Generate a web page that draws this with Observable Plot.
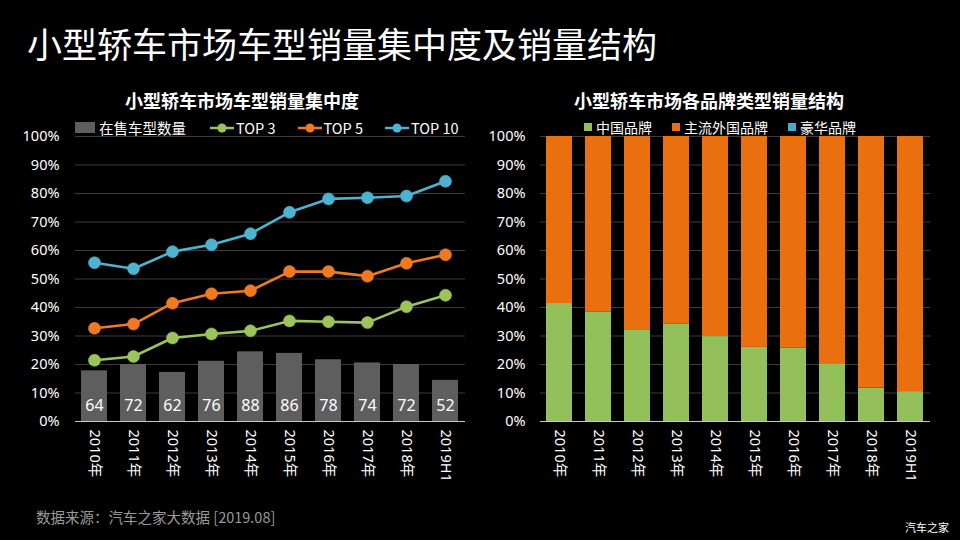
<!DOCTYPE html>
<html>
<head>
<meta charset="utf-8">
<script src="https://cdn.jsdelivr.net/npm/d3@7"></script>
<script src="https://cdn.jsdelivr.net/npm/@observablehq/plot@0.6"></script>
<style>
  html, body { margin:0; padding:0; background:#000; }
  body { width:960px; height:540px; position:relative; overflow:hidden; font-family:"Noto Sans CJK SC","Noto Sans",sans-serif; color:#fff; }
  .abs { position:absolute; }
  #title { left:27px; top:17px; font-size:35px; font-weight:400; white-space:nowrap; }
  .ctitle { font-size:18px; font-weight:700; white-space:nowrap; text-align:center; width:480px; top:87px; }
  .legend { top:117px; font-size:14.5px; display:flex; align-items:center; white-space:nowrap; }
  .legend .item { display:flex; align-items:center; }
  #source { left:36px; top:506px; font-size:14.5px; color:#9a9a9a; }
  #logo { left:905px; top:519px; font-size:11px; color:#fff; }
</style>
</head>
<body>
<div id="title" class="abs">小型轿车市场车型销量集中度及销量结构</div>
<div class="abs ctitle" style="left:2px">小型轿车市场车型销量集中度</div>
<div class="abs ctitle" style="left:469px">小型轿车市场各品牌类型销量结构</div>
<div id="legendL" class="abs legend" style="left:75px"></div>
<div id="legendR" class="abs legend" style="left:584px; font-size:14px"></div>
<div id="chartL" class="abs" style="left:0px; top:110px"></div>
<div id="chartR" class="abs" style="left:480px; top:110px"></div>
<div id="source" class="abs">数据来源：汽车之家大数据 [2019.08]</div>
<div id="logo" class="abs">汽车之家</div>
<script>
// ---- data ----
const years = ["2010年","2011年","2012年","2013年","2014年","2015年","2016年","2017年","2018年","2019H1"];
const modelCounts = [64, 72, 62, 76, 88, 86, 78, 74, 72, 52];
const modelAxisMax = 360; // secondary (hidden) axis maximum for the model count bars
const top3 = [21.5, 22.8, 29.3, 30.7, 31.8, 35.3, 35.0, 34.7, 40.3, 44.3];
const top5 = [32.7, 34.2, 41.5, 44.8, 45.9, 52.6, 52.6, 51.0, 55.5, 58.5];
const top10 = [55.7, 53.6, 59.6, 62.0, 65.9, 73.4, 78.1, 78.5, 79.1, 84.3];
const chineseBrand = [41.4, 38.3, 32.2, 34.1, 29.8, 26.0, 25.7, 20.3, 11.7, 10.5];
const foreignBrand = [58.6, 61.7, 67.8, 65.9, 70.2, 74.0, 74.3, 79.7, 88.3, 89.5];
const luxuryBrand = [0, 0, 0, 0, 0, 0, 0, 0, 0, 0];
const yTicks = [0,10,20,30,40,50,60,70,80,90,100];
const lineSeries = ["TOP 3","TOP 5","TOP 10"];
const lineColors = ["#9bc45a","#f07a22","#4db3d1"];
const barLabel = "在售车型数量";
const barColor = "#5e5e5e";
const brandSeries = ["中国品牌","主流外国品牌","豪华品牌"];
const brandColors = ["#93c05a","#ea6f0e","#45a9d0"];

const font = '"Noto Sans","Noto Sans CJK SC",sans-serif';

// ---- left chart ----
const modelRows = years.map((y,i)=>({year:y, count:modelCounts[i], pct:modelCounts[i]/modelAxisMax*100}));
const lineRows = [];
[top3, top5, top10].forEach((arr,k)=>arr.forEach((v,i)=>lineRows.push({year:years[i], series:lineSeries[k], value:v})));

const common = {
  height:395, marginTop:26, marginBottom:84,
  style:{background:"transparent", color:"#fff", fontSize:"14.5px", fontFamily:font, overflow:"visible"},
};

const left = Plot.plot({
  ...common,
  width:480, marginLeft:75, marginRight:15,
  x:{domain:years, paddingInner:0.33, paddingOuter:0.15, label:null, tickSize:0, tickRotate:90, tickPadding:8},
  y:{domain:[0,100], ticks:yTicks, tickFormat:d=>d+"%", label:null, tickSize:0, tickPadding:16},
  color:{domain:lineSeries, range:lineColors},
  marks:[
    Plot.ruleY(yTicks.filter(d=>d>0), {stroke:"#3c3c3c", strokeWidth:1}),
    Plot.barY(modelRows, {x:"year", y:"pct", fill:barColor}),
    Plot.ruleY([0], {stroke:"#c8c8c8", strokeWidth:1.2}),
    Plot.text(modelRows, {x:"year", y:0, dy:-16, text:d=>String(d.count), fill:"#fff", fontSize:16}),
    Plot.line(lineRows, {x:"year", y:"value", stroke:"series", strokeWidth:2.6}),
    Plot.dot(lineRows, {x:"year", y:"value", fill:"series", r:6, stroke:"series", strokeOpacity:0.6, strokeWidth:1})
  ]
});
document.getElementById("chartL").appendChild(left);

// ---- right chart ----
const brandRows = [];
years.forEach((y,i)=>{
  brandRows.push({year:y, brand:brandSeries[0], value:chineseBrand[i]});
  brandRows.push({year:y, brand:brandSeries[1], value:foreignBrand[i]});
  brandRows.push({year:y, brand:brandSeries[2], value:luxuryBrand[i]});
});
const right = Plot.plot({
  ...common,
  width:480, marginLeft:60, marginRight:30,
  x:{domain:years, paddingInner:0.33, paddingOuter:0.15, label:null, tickSize:0, tickRotate:90, tickPadding:8},
  y:{domain:[0,100], ticks:yTicks, tickFormat:d=>d+"%", label:null, tickSize:0, tickPadding:15},
  color:{domain:brandSeries, range:brandColors},
  marks:[
    Plot.ruleY(yTicks.filter(d=>d>0), {stroke:"#3c3c3c", strokeWidth:1}),
    Plot.barY(brandRows, {x:"year", y:"value", fill:"brand"}),
    Plot.ruleY([0], {stroke:"#c8c8c8", strokeWidth:1.2})
  ]
});
document.getElementById("chartR").appendChild(right);

// ---- legends ----
function lineMarker(c){ return `<svg width="24" height="12" style="margin-right:2px"><line x1="0" y1="6" x2="24" y2="6" stroke="${c}" stroke-width="2.5"/><circle cx="12" cy="6" r="4.5" fill="${c}"/></svg>`; }
function rectMarker(c, w, h){ return `<svg width="${w}" height="${h}" style="margin-right:4px"><rect width="${w}" height="${h}" fill="${c}"/></svg>`; }
const lL = document.getElementById("legendL");
lL.innerHTML = `<div class="item" style="margin-right:24px">${rectMarker(barColor,20,11)}<span>${barLabel}</span></div>` +
  lineSeries.map((s,i)=>`<div class="item" style="margin-right:${i<2?22:0}px">${lineMarker(lineColors[i])}<span>${s}</span></div>`).join("");
const lR = document.getElementById("legendR");
lR.innerHTML = brandSeries.map((s,i)=>`<div class="item" style="margin-right:${i<2?20:0}px">${rectMarker(brandColors[i],8,8)}<span>${s}</span></div>`).join("");
</script>
</body>
</html>
